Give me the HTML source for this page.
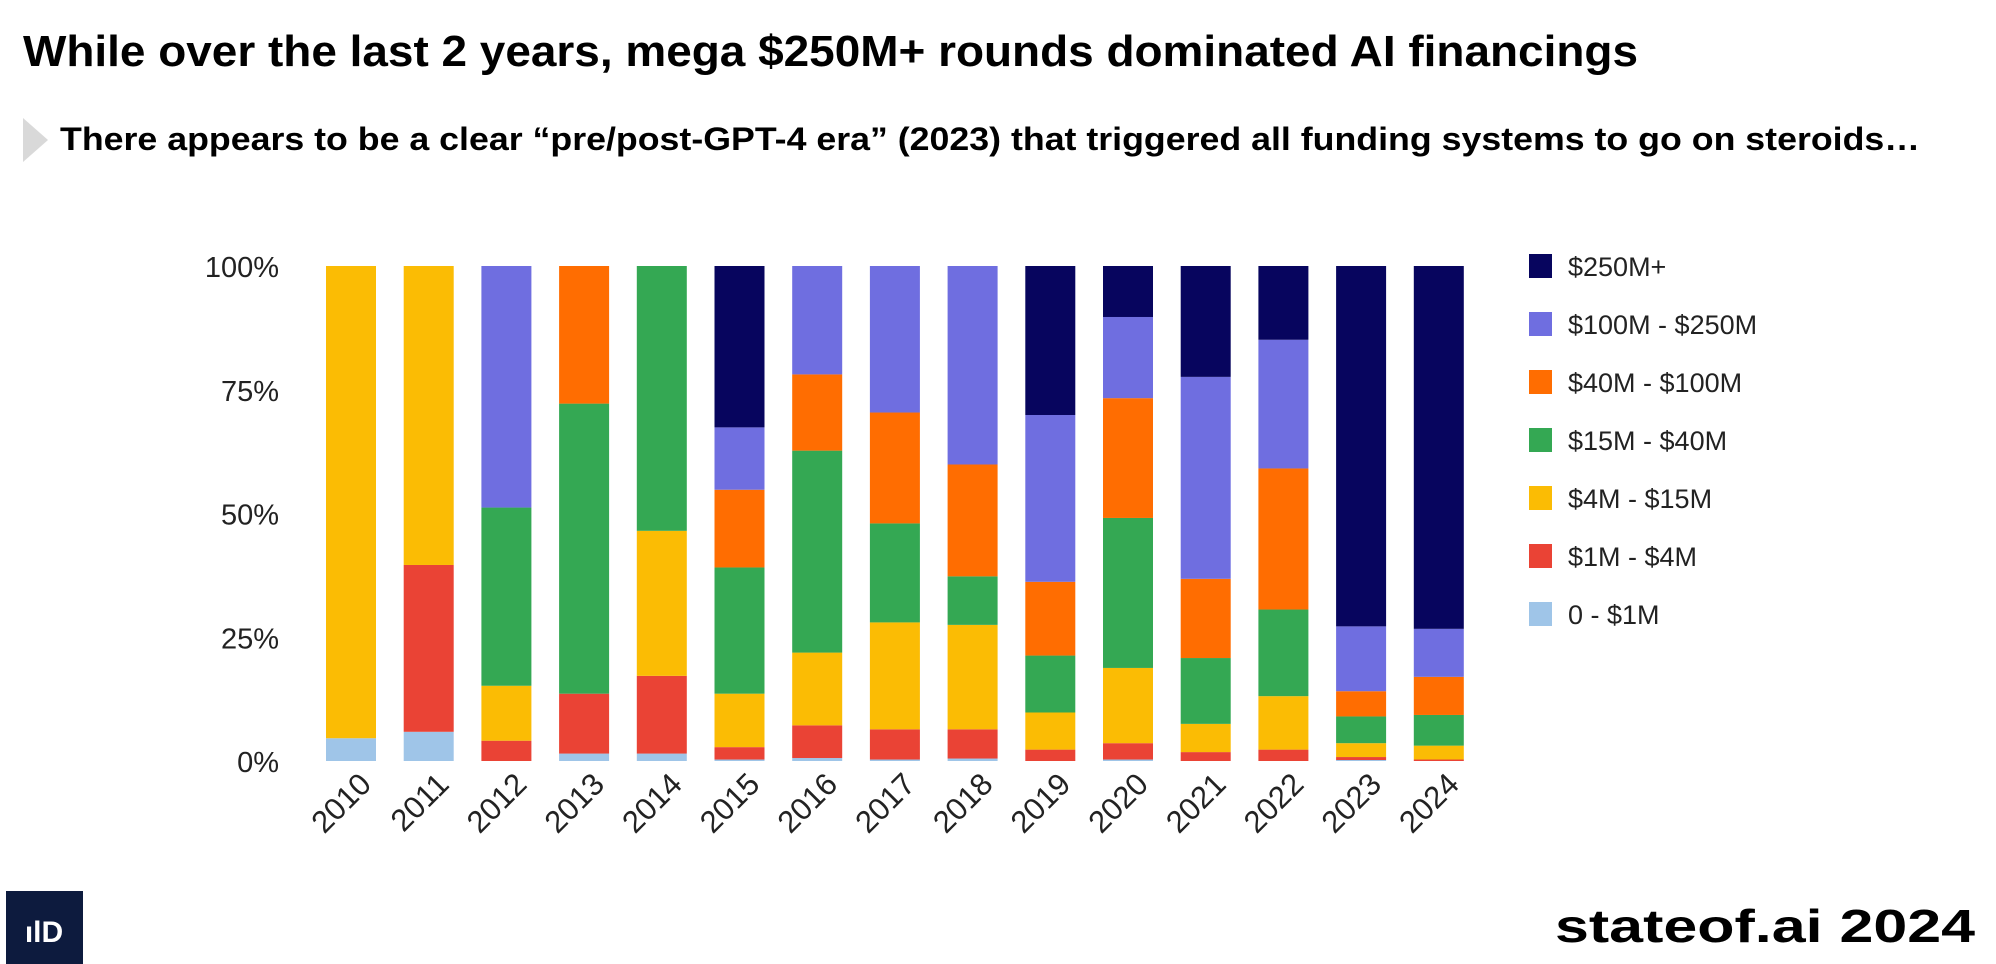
<!DOCTYPE html>
<html><head><meta charset="utf-8"><style>
html,body{margin:0;padding:0;background:#fff;}
svg{display:block;}
text{font-family:"Liberation Sans",sans-serif;}
</style></head><body>
<svg id="chart" width="1996" height="964" viewBox="0 0 1996 964">
<text x="23" y="66" font-size="44" font-weight="bold" textLength="1615" lengthAdjust="spacingAndGlyphs">While over the last 2 years, mega $250M+ rounds dominated AI financings</text>
<polygon points="23,118 48,140 23,162" fill="#d9d9d9"/>
<text x="60" y="150" font-size="32" font-weight="bold" textLength="1860" lengthAdjust="spacingAndGlyphs">There appears to be a clear “pre/post-GPT-4  era” (2023) that triggered all funding systems to go on steroids…</text>
<g id="yaxis"></g>
<g id="bars"></g>
<g id="xaxis"></g>
<g id="legend"></g>
<rect x="6" y="891" width="77" height="73" fill="#0d1b3e"/>
<text x="44" y="942" font-size="30" font-weight="bold" fill="#fff" text-anchor="middle">ılD</text>
<text x="1975" y="942" font-size="46" font-weight="bold" text-anchor="end" textLength="420" lengthAdjust="spacingAndGlyphs">stateof.ai 2024</text>
</svg>
<script>
const years = ["2010","2011","2012","2013","2014","2015","2016","2017","2018","2019","2020","2021","2022","2023","2024"];
const seriesNames = ["0 - $1M","$1M - $4M","$4M - $15M","$15M - $40M","$40M - $100M","$100M - $250M","$250M+"];
const s0to1 = [4.6,5.9,0,1.5,1.5,0.3,0.6,0.3,0.5,0,0.3,0,0,0.2,0];
const s1to4 = [0,33.7,4.1,12.1,15.7,2.5,6.6,6.1,5.9,2.3,3.3,1.8,2.3,0.6,0.3];
const s4to15 = [95.4,60.4,11.1,0,29.3,10.8,14.7,21.6,21.1,7.5,15.2,5.7,10.8,2.8,2.8];
const s15to40 = [0,0,36.0,58.6,53.5,25.5,40.8,20,9.8,11.5,30.3,13.3,17.5,5.4,6.2];
const s40to100 = [0,0,0,27.8,0,15.7,15.4,22.4,22.6,14.9,24.2,16,28.5,5.1,7.7];
const s100to250 = [0,0,48.8,0,0,12.6,21.9,29.6,40.1,33.7,16.4,40.8,26,13.1,9.7];
const s250plus = [0,0,0,0,0,32.6,0,0,0,30.1,10.3,22.4,14.9,72.8,73.3];
const yTicks = ["0%","25%","50%","75%","100%"];
const seriesData = [s0to1,s1to4,s4to15,s15to40,s40to100,s100to250,s250plus];
const colors = ["#9fc5e8","#ea4335","#fbbc04","#34a853","#ff6d01","#6f6ee0","#07055e"];
const NS="http://www.w3.org/2000/svg";
const Y0=761,Y100=266,X0=351,STEP=77.7,BW=50;
const yScale=p=>Y0-(Y0-Y100)*p/100;
const xScale=i=>X0+i*STEP;
function mk(tag,attrs,parent){const e=document.createElementNS(NS,tag);for(const k in attrs)e.setAttribute(k,attrs[k]);parent.appendChild(e);return e;}
const yax=document.getElementById('yaxis');
yTicks.forEach((t,i)=>{const e=mk('text',{x:279,y:yScale(i*25)+11,'font-size':29,'text-anchor':'end',fill:'#222'},yax);


e.textContent=t;});
const bars=document.getElementById('bars');
years.forEach((yr,i)=>{
 let total=0;seriesData.forEach(s=>total+=s[i]);
 let cum=0;
 seriesData.forEach((s,k)=>{
  const v=s[i]/total*100; if(v<=0)return;
  const yt=yScale(cum+v),yb=yScale(cum);
  const r=mk('rect',{x:xScale(i)-BW/2,y:yt,width:BW,height:yb-yt,fill:colors[k]},bars);
  
  
  cum+=v;
 });
});
const xax=document.getElementById('xaxis');
years.forEach((yr,i)=>{const cx=xScale(i)+22,cy=786;
 const e=mk('text',{x:cx,y:cy,'font-size':31,'text-anchor':'end',fill:'#222',transform:`rotate(-45 ${cx} ${cy})`},xax);
 
 
 e.textContent=yr;});
const leg=document.getElementById('legend');
for(let j=0;j<7;j++){const k=6-j;const cy=266+j*58;
 const g=mk('g',{},leg);
 
 
 mk('rect',{x:1529,y:cy-12,width:23,height:24,fill:colors[k]},g);
 const t=mk('text',{x:1568,y:cy+10,'font-size':27,fill:'#222'},g);
 t.textContent=seriesNames[k];}
</script>
</body></html>
